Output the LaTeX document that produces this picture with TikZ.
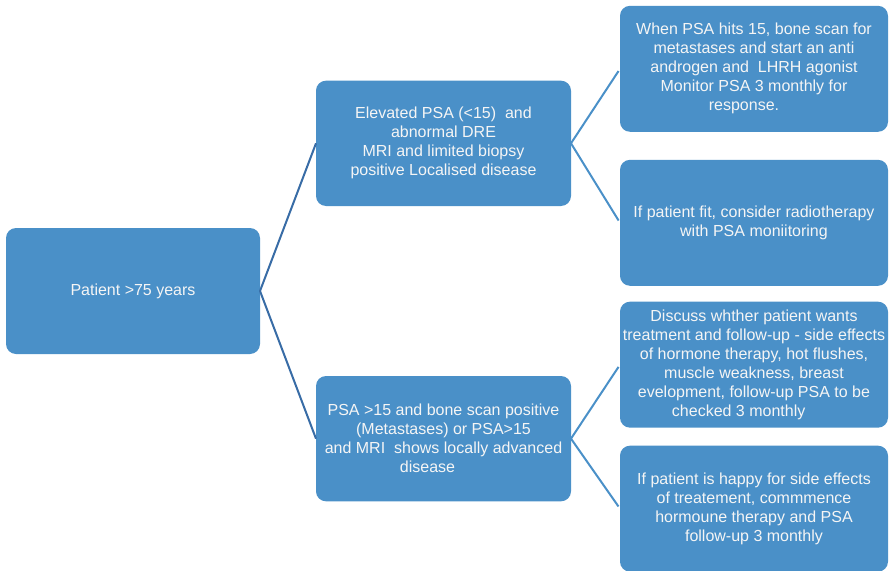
\documentclass[tikz,border=0pt]{standalone}
\usepackage{fontspec}
\setmainfont{Liberation Sans}
\usepackage{xcolor}
\usetikzlibrary{positioning}
\definecolor{boxblue}{RGB}{74,144,200}
\definecolor{linkdark}{RGB}{56,108,166}
\tikzset{
  cbox/.style ={rectangle, rounded corners=7.5pt, fill=boxblue, text=white!96!black, align=center,
                font=\fontsize{12}{14.25}\selectfont, inner sep=2pt, outer sep=0pt},
  startbox/.style={cbox, minimum width=190.5pt, minimum height=94.5pt},
  casebox/.style ={cbox, minimum width=191.25pt, minimum height=94pt},
  planbox/.style ={cbox, minimum width=201pt, minimum height=94.5pt},
  link/.style    ={line width=1.5pt, draw=linkdark},
  sublink/.style ={line width=1.5pt, draw=boxblue, shorten >=2pt},
}
\begin{document}
\begin{tikzpicture}[x=0.75pt,y=-0.75pt]
  \useasboundingbox (0,0) rectangle (890,571);
  \node[startbox] (patient) at (133,291) {Patient >75 years};
  \node[casebox, above right=16.5pt and 42pt of patient] (localised)
    {Elevated PSA (<15)\ \ and\\abnormal DRE\\MRI and limited biopsy\\positive Localised disease};
  \node[casebox, below right=16.5pt and 42pt of patient] (advanced)
    {PSA >15 and bone scan positive\\(Metastases) or PSA>15\\and MRI\ \ shows locally advanced\\disease\hspace*{24pt}};
  \node[planbox, right=36.75pt of localised, yshift=55.9pt] (bonescan)
    {When PSA hits 15, bone scan for\\metastases and start an anti\\androgen and\ \ LHRH agonist\\Monitor PSA 3 monthly for\\response.\hspace*{15pt}};
  \node[planbox, right=36.75pt of localised, yshift=-59.6pt] (radio)
    {If patient fit, consider radiotherapy\\with PSA moniitoring};
  \node[planbox, right=36.75pt of advanced, yshift=55.5pt] (discuss)
    {Discuss whther patient wants\\treatment and follow-up - side effects\\of hormone therapy, hot flushes,\\muscle weakness, breast\\evelopment, follow-up PSA to be\\checked 3 monthly\hspace*{23pt}};
  \node[planbox, right=36.75pt of advanced, yshift=-52.5pt] (hormone)
    {If patient is happy for side effects\\of treatement, commmence\\hormoune therapy and PSA\\follow-up 3 monthly};
  \draw[link] (patient.east)--(localised.west);
  \draw[link] (patient.east)--(advanced.west);
  \draw[sublink] (localised.east)--(bonescan.west);
  \draw[sublink] (localised.east)--(radio.west);
  \draw[sublink] (advanced.east)--(discuss.west);
  \draw[sublink] (advanced.east)--(hormone.west);
\end{tikzpicture}
\end{document}
